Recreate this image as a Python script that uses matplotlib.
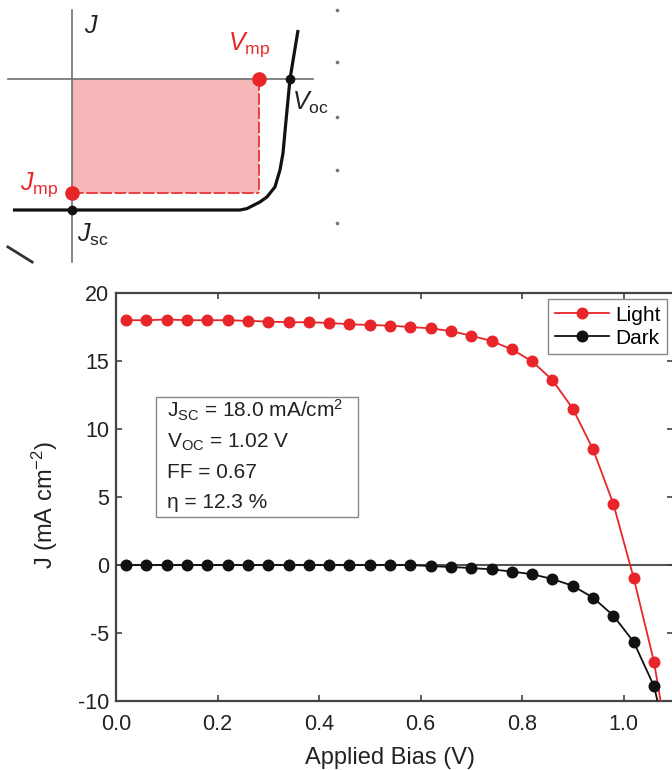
import matplotlib
matplotlib.use("Agg")
import matplotlib.pyplot as plt
from matplotlib.patches import Rectangle

plt.rcParams['font.family'] = ['Liberation Sans', 'DejaVu Sans']
plt.rcParams['mathtext.fontset'] = 'custom'
plt.rcParams['mathtext.rm'] = 'Liberation Sans'
plt.rcParams['mathtext.it'] = 'Liberation Sans:italic'
plt.rcParams['mathtext.sf'] = 'Liberation Sans'

# ---------------- main J-V data ----------------
bias = [0.02, 0.06, 0.10, 0.14, 0.18, 0.22, 0.26, 0.30, 0.34, 0.38, 0.42, 0.46,
        0.50, 0.54, 0.58, 0.62, 0.66, 0.70, 0.74, 0.78, 0.82, 0.86, 0.90, 0.94,
        0.98, 1.02, 1.06, 1.10]
light = [18.0, 18.0, 18.05, 18.0, 18.0, 18.0, 17.95, 17.9, 17.85, 17.85, 17.8, 17.7,
         17.65, 17.6, 17.5, 17.4, 17.2, 16.86, 16.47, 15.86, 14.97, 13.6, 11.5, 8.5,
         4.5, -0.95, -7.1, -16.0]
dark = [0.0, 0.0, 0.0, 0.0, 0.0, 0.0, 0.0, 0.0, 0.0, 0.0, 0.0, 0.0,
        0.0, 0.0, 0.0, -0.08, -0.15, -0.22, -0.32, -0.48, -0.68, -1.03, -1.53, -2.4,
        -3.72, -5.65, -8.9, -15.2]
series_labels = ['Light', 'Dark']
xticks = [0.0, 0.2, 0.4, 0.6, 0.8, 1.0]
yticks = [-10, -5, 0, 5, 10, 15, 20]
info_lines = [r'J$_{\rm SC}$ = 18.0 mA/cm$^{2}$', r'V$_{\rm OC}$ = 1.02 V',
              'FF = 0.67', 'η = 12.3 %']

# ---------------- schematic data (arbitrary units) ----------------
sk_curve_v = [-0.271, 0.771, 0.803, 0.830, 0.862, 0.894, 0.931, 0.954, 0.968, 0.982, 1.0, 1.037]
sk_curve_j = [-1.0, -1.0, -0.989, -0.966, -0.939, -0.901, -0.824, -0.695, -0.565, -0.313, 0.0, 0.374]
sk_vmp, sk_jmp = 0.858, -0.870
sk_voc, sk_jsc = 1.0, -1.0
sk_haxis = [-0.294, 1.106]
sk_vaxis = [0.527, -1.40]
sk_diag_v = [-0.294, -0.183]
sk_diag_j = [-1.282, -1.397]
sk_dots_v = [1.216] * 5
sk_dots_j = [0.527, 0.130, -0.290, -0.695, -1.099]

RED = '#e8262a'

fig = plt.figure(figsize=(6.72, 7.70), dpi=100)

# ---------------- schematic ----------------
ax0 = fig.add_axes([0, 500 / 770, 340 / 672, 270 / 770])
ax0.set_xlim(-0.3303, 1.2294)
ax0.set_ylim(-1.458, 0.603)
ax0.axis('off')
ax0.fill_between([0, sk_vmp], sk_jmp, 0, color='#f5b7b7', lw=0, zorder=1)
ax0.plot(sk_haxis, [0, 0], color='#707070', lw=1.2, zorder=2)
ax0.plot([0, 0], sk_vaxis, color='#707070', lw=1.2, zorder=2)
ax0.plot([sk_vmp, sk_vmp], [0, sk_jmp], color=RED, lw=1.2, ls=(0, (7, 1.5)), zorder=3)
ax0.plot([0, sk_vmp], [sk_jmp, sk_jmp], color=RED, lw=1.2, ls=(0, (7, 1.5)), zorder=3)
ax0.plot(sk_curve_v, sk_curve_j, color='#111111', lw=2.3, zorder=4, solid_capstyle='butt')
ax0.plot(sk_diag_v, sk_diag_j, color='#333333', lw=2.0, zorder=4)
ax0.plot([sk_vmp, 0], [0, sk_jmp], 'o', color=RED, ms=9.5, zorder=5)
ax0.plot([sk_voc, 0], [0, sk_jsc], 'o', color='#111111', ms=6, zorder=5)
ax0.plot(sk_dots_v, sk_dots_j, 'o', color='#777777', ms=1.6, zorder=5)
ax0.text(0.055, 0.351, r'$J$', fontsize=18, color='#222222', ha='left', va='baseline')
ax0.text(0.715, 0.221, r'$V_{\rm mp}$', fontsize=18, color=RED, ha='left', va='baseline')
ax0.text(1.010, -0.237, r'$V_{\rm oc}$', fontsize=18, color='#222222', ha='left', va='baseline')
ax0.text(-0.240, -0.847, r'$J_{\rm mp}$', fontsize=18, color=RED, ha='left', va='baseline')
ax0.text(0.025, -1.244, r'$J_{\rm sc}$', fontsize=18, color='#222222', ha='left', va='baseline')

# ---------------- main chart ----------------
ax = fig.add_axes([116 / 672, 69 / 770, 557 / 672, 408 / 770])
ax.set_xlim(0, 557 / 507.5)
ax.set_ylim(-10, 20)
ax.axhline(0, color='#555555', lw=1.5, zorder=1)
ax.plot(bias, light, '-o', color=RED, ms=7.6, lw=1.3, label=series_labels[0], zorder=3)
ax.plot(bias, dark, '-o', color='#111111', ms=7.6, lw=1.3, label=series_labels[1], zorder=3)

ax.set_xticks(xticks)
ax.set_xticklabels([f'{t:.1f}' for t in xticks])
ax.set_yticks(yticks)
ax.set_yticklabels([str(t) for t in yticks])
ax.tick_params(direction='in', length=4.5, width=1.2, top=True, right=True,
               labelsize=15.5, colors='#444444', labelcolor='#222222')
ax.tick_params(axis='x', pad=9)
ax.tick_params(axis='y', pad=5)
for s in ax.spines.values():
    s.set_color('#444444')
    s.set_linewidth(1.6)

ax.set_xlabel('Applied Bias (V)', fontsize=17, color='#222222')
ax.set_ylabel(r'J (mA cm$^{-2}$)', fontsize=17, color='#222222')
ax.xaxis.set_label_coords(0.492, -0.113)
ax.yaxis.set_label_coords(-0.10, 0.48)

leg = ax.legend(loc='upper right', fontsize=15, frameon=True, fancybox=False,
                edgecolor='#888888', framealpha=1, handlelength=2.6,
                handletextpad=0.3, borderpad=0.3, labelspacing=0.2,
                borderaxespad=0.3)
leg.get_frame().set_linewidth(1.0)

ax.add_patch(Rectangle((0.0718, 0.451), 0.4345 - 0.0718, 0.745 - 0.451,
                       transform=ax.transAxes, fc='white', ec='#888888', lw=1.0, zorder=4))
for i, line in enumerate(info_lines):
    ax.text(0.0916, 0.694 - i * 0.0735, line, transform=ax.transAxes, fontsize=15,
            color='#222222', ha='left', va='baseline', zorder=5)

fig.savefig('out.png', dpi=100)
